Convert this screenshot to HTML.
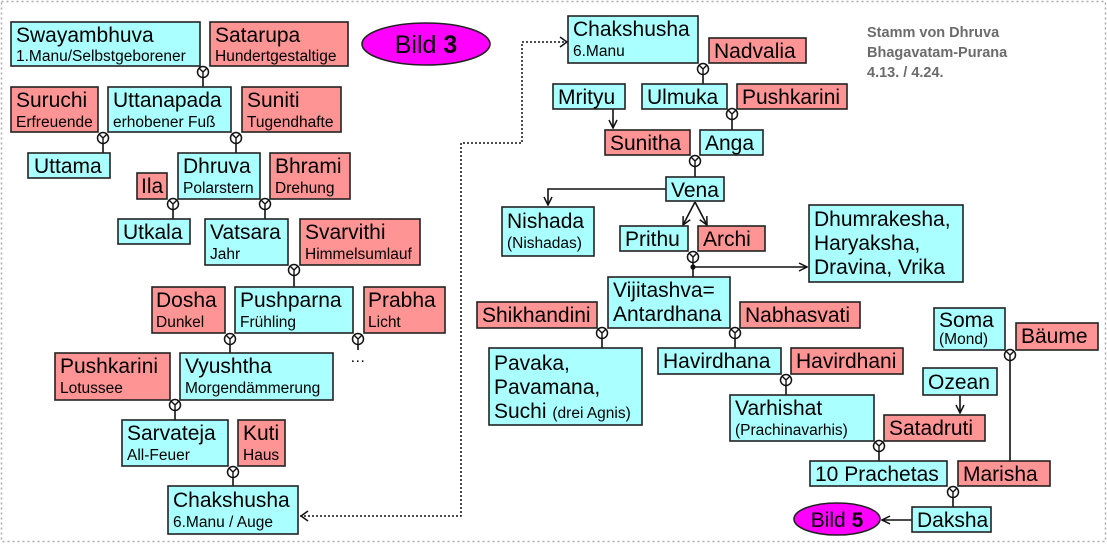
<!DOCTYPE html>
<html><head><meta charset="utf-8"><style>
html,body{margin:0;padding:0;background:#fff}
svg{display:block}
text{font-family:"Liberation Sans",Arial,sans-serif;fill:#000}
.b{font-size:21px}.s{font-size:15.5px}
.c{fill:#aaffff;stroke:#222;stroke-width:1.6}
.p{fill:#ff9494;stroke:#222;stroke-width:1.6}
.l{stroke:#111;stroke-width:1.6;fill:none}
</style></head><body>
<svg width="1107" height="544" viewBox="0 0 1107 544" xmlns="http://www.w3.org/2000/svg">
<defs>
<g id="m"><circle cx="0" cy="0" r="5.5" fill="#fff" stroke="#111" stroke-width="1.5"/><path d="M-3.8,-3.8L0,0L3.8,-3.8M0,0V5.5" stroke="#111" stroke-width="1.4" fill="none"/></g>
<marker id="a" markerWidth="10" markerHeight="10" refX="9" refY="5" orient="auto" markerUnits="userSpaceOnUse"><path d="M1,1L9,5L1,9" fill="none" stroke="#111" stroke-width="1.5"/></marker>
</defs>
<rect x="1.5" y="1.5" width="1104" height="540" fill="none" stroke="#aaa" stroke-width="1.5" stroke-dasharray="2,3"/>

<path class="l" d="M203,72V87 M103,138V153 M236,138V153 M173,204V219 M265,204V219 M294,270V287 M230,339V353 M175,405V420 M233,472V486 M358,345V350"/>
<text x="350" y="362" class="s">…</text>

<path d="M300,516H461V143H522V42H565" fill="none" stroke="#111" stroke-width="1.5" stroke-dasharray="2,2"/>
<path d="M308,511L301,516L308,521" fill="none" stroke="#111" stroke-width="1.5"/>
<path d="M560,37L567,42L560,47" fill="none" stroke="#111" stroke-width="1.5"/>

<rect class="c" x="11" y="22" width="189" height="44"/><text x="16" y="42" class="b">Swayambhuva</text><text x="16" y="61" class="s">1.Manu/Selbstgeborener</text>
<rect class="p" x="210" y="22" width="138" height="44"/><text x="215" y="42" class="b">Satarupa</text><text x="215" y="61" class="s">Hundertgestaltige</text>
<rect class="p" x="11" y="87" width="87" height="45"/><text x="16" y="107" class="b">Suruchi</text><text x="16" y="127" class="s">Erfreuende</text>
<rect class="c" x="108" y="87" width="123" height="45"/><text x="113" y="107" class="b">Uttanapada</text><text x="113" y="127" class="s">erhobener Fuß</text>
<rect class="p" x="242" y="87" width="99" height="45"/><text x="247" y="107" class="b">Suniti</text><text x="247" y="127" class="s">Tugendhafte</text>
<rect class="c" x="28" y="153" width="82" height="25"/><text x="34" y="173" class="b">Uttama</text>
<rect class="p" x="137" y="173" width="30" height="26"/><text x="141" y="193" class="b">Ila</text>
<rect class="c" x="178" y="153" width="82" height="46"/><text x="183" y="173" class="b">Dhruva</text><text x="183" y="193" class="s">Polarstern</text>
<rect class="p" x="270" y="153" width="80" height="46"/><text x="275" y="173" class="b">Bhrami</text><text x="275" y="193" class="s">Drehung</text>
<rect class="c" x="118" y="219" width="72" height="25"/><text x="123" y="239" class="b">Utkala</text>
<rect class="c" x="205" y="219" width="83" height="46"/><text x="210" y="239" class="b">Vatsara</text><text x="210" y="259" class="s">Jahr</text>
<rect class="p" x="300" y="219" width="120" height="46"/><text x="305" y="239" class="b">Svarvithi</text><text x="305" y="259" class="s">Himmelsumlauf</text>
<rect class="p" x="152" y="287" width="73" height="46"/><text x="156" y="307" class="b">Dosha</text><text x="156" y="327" class="s">Dunkel</text>
<rect class="c" x="235" y="287" width="118" height="46"/><text x="240" y="307" class="b">Pushparna</text><text x="240" y="327" class="s">Frühling</text>
<rect class="p" x="364" y="287" width="81" height="46"/><text x="368" y="307" class="b">Prabha</text><text x="368" y="327" class="s">Licht</text>
<rect class="p" x="55" y="353" width="115" height="47"/><text x="60" y="373" class="b">Pushkarini</text><text x="60" y="393" class="s">Lotussee</text>
<rect class="c" x="180" y="353" width="153" height="47"/><text x="185" y="373" class="b">Vyushtha</text><text x="185" y="393" class="s">Morgendämmerung</text>
<rect class="c" x="122" y="420" width="106" height="46"/><text x="127" y="440" class="b">Sarvateja</text><text x="127" y="460" class="s">All-Feuer</text>
<rect class="p" x="238" y="420" width="47" height="46"/><text x="243" y="440" class="b">Kuti</text><text x="243" y="460" class="s">Haus</text>
<rect class="c" x="168" y="486" width="130" height="48"/><text x="173" y="507" class="b">Chakshusha</text><text x="173" y="527" class="s">6.Manu / Auge</text>

<use href="#m" x="203" y="72"/><use href="#m" x="103" y="138"/><use href="#m" x="236" y="138"/>
<use href="#m" x="173" y="204"/><use href="#m" x="265" y="204"/><use href="#m" x="294" y="270"/>
<use href="#m" x="230" y="339"/><use href="#m" x="358" y="339"/><use href="#m" x="175" y="405"/><use href="#m" x="233" y="472"/>

<ellipse cx="426" cy="44" rx="64" ry="21" fill="#ff00ff" stroke="#222" stroke-width="1.6"/>
<text x="426" y="53" text-anchor="middle" style="font-size:25px">Bild <tspan font-weight="bold">3</tspan></text>

<path class="l" d="M703,75V84 M732,120V130 M695,167V177 M693,263V277 M602,339V348 M735,339V348 M786,386V395 M879,452V461 M953,498V507 M1010,361V461"/>
<path class="l" d="M613,109V128" marker-end="url(#a)"/>
<path class="l" d="M666,189H548V205" marker-end="url(#a)"/>
<path class="l" d="M695,202L683,225" marker-end="url(#a)"/>
<path class="l" d="M695,202L707,225" marker-end="url(#a)"/>
<path class="l" d="M693,267H807" marker-end="url(#a)"/>
<circle cx="693" cy="267" r="2.6" fill="#111"/>
<path class="l" d="M960,395V413" marker-end="url(#a)"/>
<path class="l" d="M912,520H882" marker-end="url(#a)"/>

<rect class="c" x="568" y="16" width="130" height="47"/><text x="573" y="36" class="b">Chakshusha</text><text x="573" y="56" class="s">6.Manu</text>
<rect class="p" x="709" y="38" width="97" height="25"/><text x="714" y="58" class="b">Nadvalia</text>
<rect class="c" x="553" y="84" width="72" height="25"/><text x="558" y="104" class="b">Mrityu</text>
<rect class="c" x="642" y="84" width="85" height="25"/><text x="647" y="104" class="b">Ulmuka</text>
<rect class="p" x="737" y="84" width="110" height="25"/><text x="742" y="104" class="b">Pushkarini</text>
<rect class="p" x="605" y="130" width="85" height="25"/><text x="610" y="150" class="b">Sunitha</text>
<rect class="c" x="700" y="130" width="63" height="25"/><text x="705" y="150" class="b">Anga</text>
<rect class="c" x="666" y="177" width="58" height="24"/><text x="671" y="197" class="b">Vena</text>
<rect class="c" x="502" y="207" width="92" height="49"/><text x="507" y="228" class="b">Nishada</text><text x="507" y="248" class="s">(Nishadas)</text>
<rect class="c" x="620" y="226" width="68" height="25"/><text x="625" y="246" class="b">Prithu</text>
<rect class="p" x="698" y="226" width="67" height="25"/><text x="703" y="246" class="b">Archi</text>
<rect class="c" x="809" y="205" width="154" height="77"/><text x="814" y="226" class="b">Dhumrakesha,</text><text x="814" y="250" class="b">Haryaksha,</text><text x="814" y="274" class="b">Dravina, Vrika</text>
<rect class="c" x="608" y="277" width="122" height="51"/><text x="613" y="297" class="b">Vijitashva=</text><text x="613" y="321" class="b">Antardhana</text>
<rect class="p" x="477" y="302" width="120" height="26"/><text x="482" y="322" class="b">Shikhandini</text>
<rect class="p" x="740" y="302" width="120" height="26"/><text x="745" y="322" class="b">Nabhasvati</text>
<rect class="c" x="489" y="348" width="153" height="77"/><text x="494" y="370" class="b">Pavaka,</text><text x="494" y="394" class="b">Pavamana,</text><text x="494" y="418" class="b">Suchi <tspan class="s">(drei Agnis)</tspan></text>
<rect class="c" x="658" y="348" width="123" height="26"/><text x="663" y="368" class="b">Havirdhana</text>
<rect class="p" x="791" y="348" width="112" height="26"/><text x="796" y="368" class="b">Havirdhani</text>
<rect class="c" x="730" y="395" width="144" height="46"/><text x="735" y="415" class="b">Varhishat</text><text x="735" y="435" class="s">(Prachinavarhis)</text>
<rect class="p" x="884" y="415" width="101" height="26"/><text x="889" y="435" class="b">Satadruti</text>
<rect class="c" x="810" y="461" width="137" height="25"/><text x="815" y="481" class="b">10 Prachetas</text>
<rect class="p" x="958" y="461" width="92" height="25"/><text x="963" y="481" class="b">Marisha</text>
<rect class="c" x="912" y="507" width="79" height="25"/><text x="917" y="527" class="b">Daksha</text>
<rect class="c" x="934" y="308" width="71" height="42"/><text x="939" y="327" class="b">Soma</text><text x="939" y="344" class="s">(Mond)</text>
<rect class="p" x="1016" y="323" width="82" height="27"/><text x="1021" y="343" class="b">Bäume</text>
<rect class="c" x="923" y="368" width="74" height="27"/><text x="928" y="389" class="b">Ozean</text>

<use href="#m" x="703" y="69"/><use href="#m" x="732" y="114"/><use href="#m" x="695" y="161"/>
<use href="#m" x="693" y="257"/><use href="#m" x="602" y="333"/><use href="#m" x="735" y="333"/>
<use href="#m" x="786" y="380"/><use href="#m" x="879" y="446"/><use href="#m" x="953" y="492"/><use href="#m" x="1010" y="355"/>

<ellipse cx="837" cy="519" rx="43" ry="16" fill="#ff00ff" stroke="#222" stroke-width="1.6"/>
<text x="837" y="527" text-anchor="middle" style="font-size:21px">Bild <tspan font-weight="bold">5</tspan></text>

<g style="font-size:14.5px;font-weight:bold">
<text x="867" y="37" style="fill:#6b6b6b">Stamm von Dhruva</text>
<text x="867" y="57" style="fill:#6b6b6b">Bhagavatam-Purana</text>
<text x="867" y="77" style="fill:#6b6b6b">4.13. / 4.24.</text>
</g>
</svg>
</body></html>
